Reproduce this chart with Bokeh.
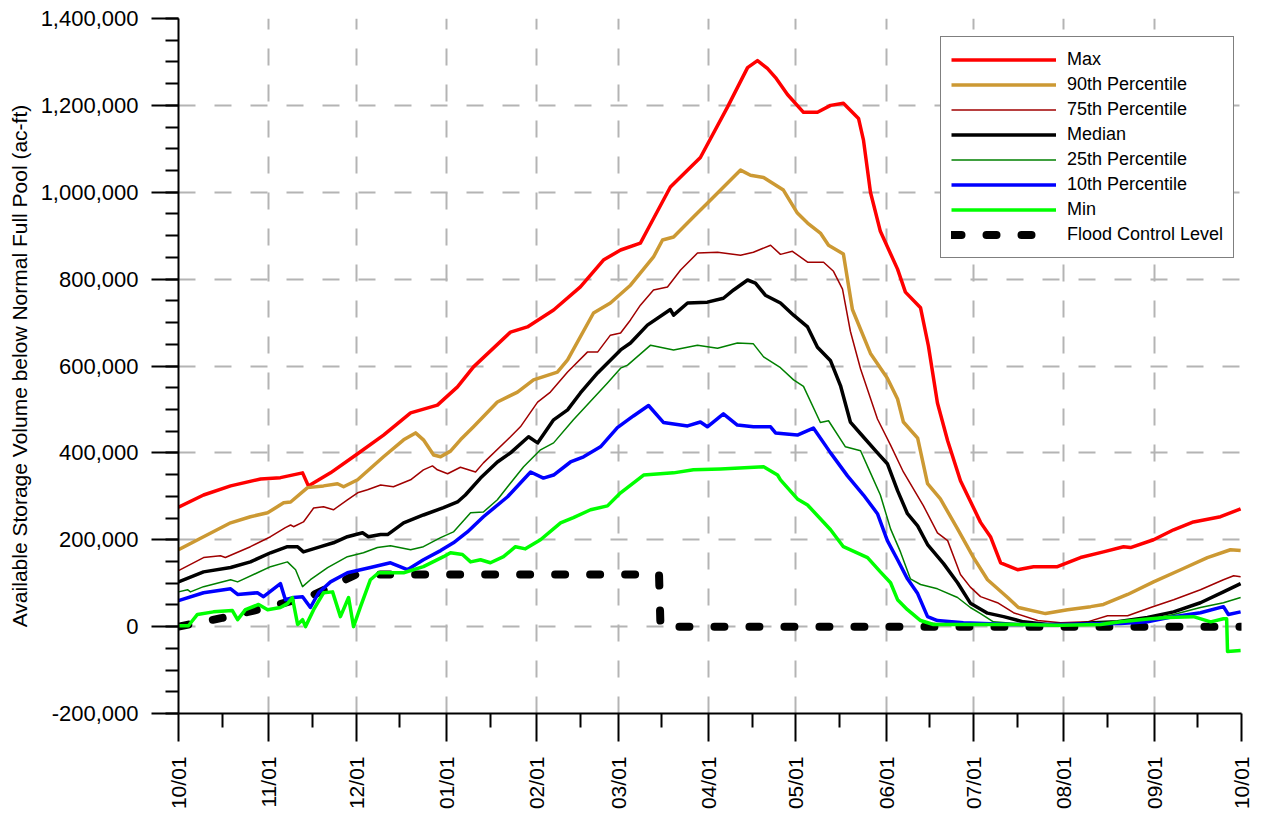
import math
from bokeh.plotting import figure
from bokeh.models import Range1d, FixedTicker, NumeralTickFormatter, Legend, LegendItem
from bokeh.embed import file_html
from bokeh.resources import INLINE

# ---------------- data (day of water year, starting 10/01 = 0) ----------------
month_days = [0, 31, 61, 92, 123, 151, 182, 212, 243, 273, 304, 335, 365]
month_labels = ["10/01", "11/01", "12/01", "01/01", "02/01", "03/01", "04/01",
                "05/01", "06/01", "07/01", "08/01", "09/01", "10/01"]
mid_days = [15, 46, 76, 107, 138, 166, 197, 227, 258, 288, 319, 350]
y_ticks = [-200000, 0, 200000, 400000, 600000, 800000, 1000000, 1200000, 1400000]
y_minor = [-200000, -150000, -100000, -50000, 0, 50000, 100000, 150000, 200000,
           250000, 300000, 350000, 400000, 450000, 500000, 550000, 600000, 650000,
           700000, 750000, 800000, 850000, 900000, 950000, 1000000, 1050000, 1100000,
           1150000, 1200000, 1250000, 1300000, 1350000, 1400000]

max_days = [0, 8.6, 17.9, 28.2, 35.0, 42.6, 44.6, 52.2, 61.5, 70.4, 79.7, 88.9, 95.8, 101.3, 114.0,
            119.8, 128.8, 138.0, 145.9, 151.8, 158.6, 161.0, 168.9, 179.2, 188.5, 195.4, 198.8,
            202.2, 205.0, 209.1, 214.6, 219.4, 223.9, 228.3, 233.5, 235.2, 237.6, 241.0, 246.9,
            249.6, 254.8, 257.5, 260.6, 264.1, 268.5, 275.4, 278.8, 282.3, 288.1, 293.6, 301.8,
            309.7, 317.6, 324.5, 326.9, 334.8, 341.7, 348.5, 357.8, 364.7]
max_vals = [275000, 303000, 324000, 340000, 343000, 354000, 324000, 354000, 398000, 441000,
            492000, 510000, 552000, 598000, 678000, 690000, 729000, 782000, 844000, 867000,
            883000, 913000, 1012000, 1080000, 1196000, 1287000, 1303000, 1285000, 1264000,
            1225000, 1184000, 1184000, 1200000, 1205000, 1170000, 1120000, 1000000, 910000,
            823000, 770000, 734000, 646000, 515000, 428000, 336000, 240000, 207000, 147000,
            131000, 138000, 138000, 159000, 172000, 184000, 182000, 200000, 223000, 241000,
            253000, 271000]

p90_days = [0, 8.6, 17.9, 24.7, 30.6, 36.1, 38.5, 44.3, 49.8, 54.6, 56.7, 61.5, 70.4, 77.3, 81.4,
            84.1, 87.6, 90.0, 93.4, 96.8, 101.3, 109.5, 116.4, 121.9, 130.1, 133.6, 142.5, 148.3,
            155.2, 163.1, 166.2, 170.0, 176.8, 182.7, 193.0, 196.4, 200.9, 207.7, 212.5, 216.0,
            220.4, 223.2, 228.3, 231.4, 237.6, 243.4, 246.9, 248.9, 253.8, 257.2, 261.6, 267.5,
            273.0, 277.8, 284.7, 288.4, 297.7, 305.3, 313.2, 317.6, 325.9, 334.8, 344.1, 353.3,
            361.2, 364.7]
p90_vals = [177000, 207000, 239000, 253000, 262000, 285000, 287000, 320000, 324000, 329000,
            322000, 338000, 391000, 430000, 446000, 430000, 395000, 391000, 404000, 430000,
            460000, 517000, 540000, 568000, 586000, 614000, 722000, 745000, 786000, 851000,
            890000, 897000, 943000, 982000, 1051000, 1039000, 1034000, 1005000, 952000, 929000,
            906000, 878000, 858000, 730000, 629000, 572000, 524000, 471000, 434000, 329000,
            294000, 225000, 159000, 108000, 67000, 44000, 30000, 39000, 46000, 51000, 74000,
            103000, 131000, 159000, 177000, 175000]

p75_days = [0, 8.6, 14.4, 16.1, 24.7, 31.6, 36.7, 38.5, 39.5, 42.9, 46.4, 49.8, 53.2, 58.0, 61.5,
            64.9, 69.4, 73.8, 79.7, 84.1, 87.2, 88.9, 92.4, 96.8, 102.0, 104.7, 114.0, 117.4,
            123.3, 127.7, 133.6, 140.4, 143.9, 148.3, 151.8, 155.2, 158.6, 163.1, 167.9, 172.4,
            178.2, 185.1, 193.0, 197.4, 203.3, 206.7, 210.8, 216.0, 221.5, 224.9, 228.0, 230.7,
            234.2, 240.0, 244.5, 248.9, 255.8, 260.6, 264.1, 268.5, 271.9, 275.4, 281.2, 286.7,
            295.0, 302.9, 312.1, 319.0, 325.9, 333.8, 341.7, 350.9, 358.8, 362.3, 364.7]
p75_vals = [129000, 159000, 163000, 159000, 184000, 207000, 228000, 234000, 230000, 241000,
            273000, 276000, 269000, 292000, 308000, 315000, 326000, 322000, 338000, 361000,
            370000, 361000, 352000, 367000, 356000, 377000, 437000, 460000, 517000, 540000,
            586000, 632000, 632000, 671000, 676000, 706000, 740000, 775000, 782000, 821000,
            860000, 862000, 855000, 862000, 878000, 857000, 864000, 839000, 839000, 818000,
            777000, 680000, 593000, 478000, 418000, 356000, 278000, 216000, 198000, 120000,
            91000, 69000, 55000, 32000, 14000, 9000, 11000, 25000, 25000, 44000, 62000, 85000,
            108000, 117000, 115000]

med_days = [0, 8.6, 17.9, 24.7, 31.6, 37.4, 40.9, 42.9, 48.8, 53.2, 58.0, 63.2, 65.2, 69.4, 71.8,
            77.3, 84.1, 91.0, 95.8, 98.5, 103.7, 109.5, 114.0, 120.2, 123.3, 128.8, 133.6, 138.0,
            143.9, 151.8, 155.2, 161.0, 168.9, 170.0, 174.8, 181.6, 187.1, 190.6, 195.4, 198.1,
            201.5, 206.7, 211.2, 216.0, 219.4, 223.9, 227.3, 230.7, 234.2, 240.0, 243.4, 246.9,
            250.3, 253.8, 257.2, 262.7, 267.5, 271.9, 277.8, 283.3, 290.1, 298.4, 306.3, 314.2,
            322.4, 332.7, 341.7, 350.9, 358.8, 364.7]
med_vals = [103000, 126000, 136000, 149000, 170000, 184000, 184000, 172000, 184000, 193000,
            207000, 216000, 207000, 212000, 212000, 239000, 257000, 274000, 287000, 303000,
            342000, 379000, 400000, 437000, 423000, 476000, 499000, 538000, 584000, 637000,
            653000, 694000, 730000, 717000, 745000, 747000, 756000, 775000, 798000, 791000,
            763000, 745000, 717000, 690000, 643000, 612000, 555000, 471000, 444000, 400000,
            375000, 313000, 260000, 232000, 189000, 145000, 101000, 54000, 31000, 23000,
            11000, 5000, 5000, 9000, 11000, 21000, 34000, 55000, 80000, 99000]

p25_days = [0, 3.1, 4.1, 8.6, 17.9, 20.3, 27.1, 31.6, 37.4, 40.2, 42.6, 45.3, 51.2, 58.0, 63.5,
            68.3, 72.8, 79.7, 84.1, 90.0, 94.4, 100.3, 104.7, 109.5, 113.0, 118.5, 124.3, 128.8,
            135.6, 147.3, 151.8, 154.2, 162.1, 170.0, 178.2, 185.1, 191.9, 197.4, 200.9, 206.7,
            211.2, 214.6, 220.4, 223.2, 229.0, 234.2, 237.6, 241.0, 244.5, 247.9, 251.3, 254.8,
            260.6, 267.5, 271.9, 275.4, 279.8, 291.5, 302.9, 314.2, 323.5, 332.7, 341.7, 350.9,
            358.8, 364.7]
p25_vals = [80000, 85000, 80000, 92000, 108000, 103000, 124000, 138000, 149000, 131000, 92000,
            108000, 136000, 161000, 170000, 182000, 186000, 177000, 184000, 205000, 218000,
            262000, 264000, 292000, 322000, 368000, 407000, 423000, 476000, 561000, 595000,
            602000, 648000, 637000, 648000, 641000, 653000, 651000, 621000, 596000, 568000,
            553000, 470000, 474000, 414000, 405000, 354000, 303000, 225000, 172000, 110000,
            97000, 87000, 67000, 44000, 30000, 11000, 5000, 2000, 9000, 11000, 16000, 28000,
            44000, 55000, 67000]

p10_days = [0, 8.6, 17.9, 20.3, 27.1, 29.2, 35.0, 36.7, 39.5, 42.6, 45.3, 48.1, 52.2, 58.0, 65.9,
            72.8, 78.6, 84.1, 90.0, 94.4, 99.2, 104.7, 113.0, 120.9, 125.3, 128.8, 134.6, 139.1,
            144.9, 150.7, 156.2, 161.4, 166.5, 174.8, 179.2, 181.6, 187.1, 191.9, 197.4, 203.3,
            205.0, 212.5, 218.0, 223.9, 229.7, 235.2, 240.0, 243.4, 246.9, 250.3, 253.8, 257.2,
            260.6, 269.5, 285.7, 302.9, 323.5, 332.7, 341.7, 350.9, 358.8, 360.5, 364.7]
p10_vals = [60000, 78000, 87000, 74000, 78000, 69000, 99000, 62000, 67000, 69000, 44000, 78000,
            103000, 124000, 136000, 147000, 131000, 154000, 175000, 193000, 218000, 253000,
            299000, 356000, 342000, 349000, 379000, 391000, 414000, 458000, 485000, 509000,
            470000, 462000, 471000, 460000, 490000, 464000, 460000, 460000, 446000, 441000,
            457000, 400000, 347000, 303000, 260000, 198000, 154000, 110000, 76000, 23000,
            14000, 9000, 5000, 5000, 7000, 11000, 23000, 32000, 46000, 28000, 34000]

min_days = [0, 3.4, 6.5, 12.0, 18.5, 20.3, 23.0, 27.5, 30.6, 35.0, 37.4, 39.1, 40.9, 42.6, 43.6,
            46.4, 49.8, 52.9, 55.6, 58.4, 60.1, 62.5, 65.9, 68.7, 77.3, 84.1, 91.0, 93.4, 97.5,
            100.3, 103.7, 107.1, 111.6, 115.7, 119.1, 124.3, 131.2, 135.6, 141.5, 147.3, 151.8,
            159.7, 170.0, 176.8, 186.1, 200.9, 205.7, 206.7, 212.5, 216.0, 223.9, 228.3, 236.6,
            241.0, 244.5, 246.9, 250.3, 254.8, 259.2, 285.7, 302.9, 316.6, 323.5, 333.8, 339.6,
            348.5, 354.4, 358.8, 359.9, 360.2, 364.7]
min_vals = [2000, 2000, 28000, 34000, 37000, 16000, 39000, 51000, 39000, 44000, 53000, 67000,
            5000, 16000, 0, 39000, 78000, 80000, 23000, 67000, 0, 46000, 108000, 124000, 124000,
            138000, 161000, 170000, 166000, 149000, 154000, 147000, 161000, 184000, 179000,
            200000, 239000, 251000, 269000, 278000, 308000, 349000, 354000, 361000, 363000,
            368000, 349000, 338000, 294000, 280000, 223000, 184000, 159000, 126000, 101000,
            62000, 39000, 14000, 5000, 5000, 3000, 5000, 11000, 18000, 21000, 23000, 11000,
            18000, 18000, -57000, -55000]

flood_days = [0, 15, 31, 46, 61, 165, 165.5, 365]
flood_vals = [0, 20000, 45000, 72000, 120000, 120000, 0, 0]

# ---------------- figure ----------------
FONT = "Liberation Sans"

p = figure(width=1255, height=812,
           x_range=Range1d(0, 365), y_range=Range1d(-200000, 1400000),
           output_backend="svg", toolbar_location=None,
           min_border_left=178, min_border_right=14, min_border_top=18, min_border_bottom=98)
p.outline_line_color = None
p.background_fill_color = "white"
p.border_fill_color = "white"

# x axis
p.xaxis.ticker = FixedTicker(ticks=month_days, minor_ticks=mid_days)
p.xaxis.major_label_overrides = {d: l for d, l in zip(month_days, month_labels)}
p.xaxis.major_label_orientation = math.pi / 2
p.xaxis.major_tick_out = 28
p.xaxis.major_tick_in = 0
p.xaxis.minor_tick_out = 14
p.xaxis.minor_tick_in = 0
p.xaxis.major_label_standoff = 15

# y axis
p.yaxis.ticker = FixedTicker(ticks=y_ticks, minor_ticks=y_minor)
p.yaxis.formatter = NumeralTickFormatter(format="0,0")
p.yaxis.major_tick_out = 27
p.yaxis.major_tick_in = 0
p.yaxis.minor_tick_out = 13
p.yaxis.minor_tick_in = 0
p.yaxis.major_label_standoff = 13
p.yaxis.axis_label = "Available Storage Volume below Normal Full Pool (ac-ft)"
p.yaxis.axis_label_standoff = 7
p.yaxis.axis_label_text_font = FONT
p.yaxis.axis_label_text_font_size = "21px"
p.yaxis.axis_label_text_font_style = "normal"
p.yaxis.axis_label_text_color = "black"

for ax in (p.xaxis, p.yaxis):
    ax.axis_line_color = "black"
    ax.axis_line_width = 2
    ax.major_tick_line_color = "black"
    ax.major_tick_line_width = 2
    ax.minor_tick_line_color = "black"
    ax.minor_tick_line_width = 2
    ax.major_label_text_font = FONT
    ax.major_label_text_color = "black"
p.xaxis.major_label_text_font_size = "21px"
p.yaxis.major_label_text_font_size = "22px"

for g in (p.xgrid, p.ygrid):
    g.grid_line_color = "#B4B4B4"
    g.grid_line_width = 2
    g.grid_line_dash = "17 19"

# ---------------- series ----------------
THICK = 3.5
THIN = 1.5
r_flood = p.line(flood_days, flood_vals, line_color="black", line_width=8,
                 line_dash="10 25", line_cap="round")
r_max = p.line(max_days, max_vals, line_color="#FF0000", line_width=THICK, line_join="round")
r_p90 = p.line(p90_days, p90_vals, line_color="#CC9933", line_width=THICK, line_join="round")
r_p75 = p.line(p75_days, p75_vals, line_color="#A00000", line_width=THIN, line_join="round")
r_med = p.line(med_days, med_vals, line_color="black", line_width=THICK, line_join="round")
r_p25 = p.line(p25_days, p25_vals, line_color="#008000", line_width=THIN, line_join="round")
r_p10 = p.line(p10_days, p10_vals, line_color="#0000FF", line_width=THICK, line_join="round")
r_min = p.line(min_days, min_vals, line_color="#00FF00", line_width=THICK, line_join="round")

legend = Legend(items=[
    LegendItem(label="Max", renderers=[r_max]),
    LegendItem(label="90th Percentile", renderers=[r_p90]),
    LegendItem(label="75th Percentile", renderers=[r_p75]),
    LegendItem(label="Median", renderers=[r_med]),
    LegendItem(label="25th Percentile", renderers=[r_p25]),
    LegendItem(label="10th Percentile", renderers=[r_p10]),
    LegendItem(label="Min", renderers=[r_min]),
    LegendItem(label="Flood Control Level", renderers=[r_flood]),
], location=(762, 455))
legend.label_text_font = FONT
legend.label_text_font_size = "18px"
legend.label_text_color = "black"
legend.glyph_width = 105
legend.glyph_height = 25
legend.label_height = 25
legend.label_standoff = 11
legend.padding = 10
legend.spacing = 0
legend.margin = 0
legend.border_line_color = "black"
legend.border_line_width = 1.5
legend.background_fill_color = "white"
legend.background_fill_alpha = 1.0
p.add_layout(legend)

open("out.html", "w").write(file_html(p, INLINE))
